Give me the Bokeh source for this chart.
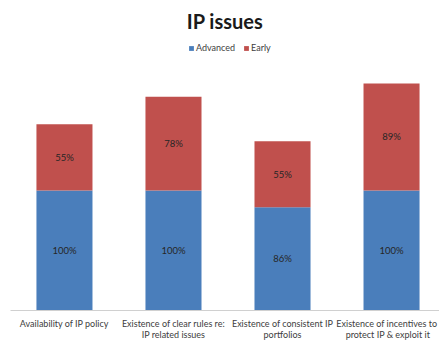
from bokeh.plotting import figure
from bokeh.models import ColumnDataSource, FixedTicker, Legend, LegendItem
from bokeh.core.properties import value
from bokeh.embed import file_html
from bokeh.resources import INLINE

categories = ["Availability of IP policy",
              "Existence of clear rules re:\nIP related issues",
              "Existence of consistent IP\nportfolios",
              "Existence of  incentives to\nprotect IP & exploit it"]
advanced = [100, 100, 86, 100]
early = [55, 78, 55, 89]
series = ["Advanced", "Early"]
colors = ["#4a7ebb", "#c0504d"]

xs = list(range(len(categories)))
src = ColumnDataSource(dict(x=xs, Advanced=advanced, Early=early))

FONT = "Lato"
p = figure(width=439, height=342, output_backend="svg", toolbar_location=None,
           x_range=(-0.495, 3.44), y_range=(0, 229),
           min_border_left=10, min_border_right=0, min_border_top=35,
           min_border_bottom=20)
p.outline_line_color = None
p.background_fill_color = "white"
p.border_fill_color = "white"

rs = p.vbar_stack(series, x="x", width=0.514, source=src, color=colors, line_color=None)

# value labels
adv_mid = [a / 2 for a in advanced]
early_mid = [a + e / 2 for a, e in zip(advanced, early)]
lab = ColumnDataSource(dict(
    x=xs + xs,
    y=adv_mid + early_mid,
    t=[f"{v}%" for v in advanced] + [f"{v}%" for v in early]))
p.text(x="x", y="y", text="t", source=lab, text_align="center", text_baseline="middle",
       text_font=value(FONT), text_font_size="9.5px", text_color="#262626")

p.title.text = "IP issues"
p.title.align = "center"
p.title.offset = 5
p.title.standoff = 5
p.title.text_font = FONT
p.title.text_font_size = "20px"
p.title.text_font_style = "bold"
p.title.text_color = "#1a1a1a"

legend = Legend(items=[LegendItem(label=s, renderers=[r]) for s, r in zip(series, rs)],
                orientation="horizontal", location=(178, 257),
                label_text_font=FONT, label_text_font_size="9px", label_text_color="#404040",
                glyph_width=6, glyph_height=6, spacing=8, label_standoff=2,
                border_line_color=None, background_fill_alpha=0, padding=4, margin=0)
p.add_layout(legend)

p.yaxis.visible = False
p.xgrid.grid_line_color = None
p.ygrid.grid_line_color = None
p.xaxis.ticker = FixedTicker(ticks=xs)
p.xaxis.major_label_overrides = {i: c for i, c in enumerate(categories)}
p.xaxis.major_tick_line_color = None
p.xaxis.minor_tick_line_color = None
p.xaxis.axis_line_color = "#d0d0d0"
p.xaxis.major_label_text_font = FONT
p.xaxis.major_label_text_font_size = "9px"
p.xaxis.major_label_text_line_height = 1.0
p.xaxis.major_label_text_color = "#404040"
p.xaxis.major_label_standoff = 1

open("out.html", "w").write(file_html(p, INLINE))
